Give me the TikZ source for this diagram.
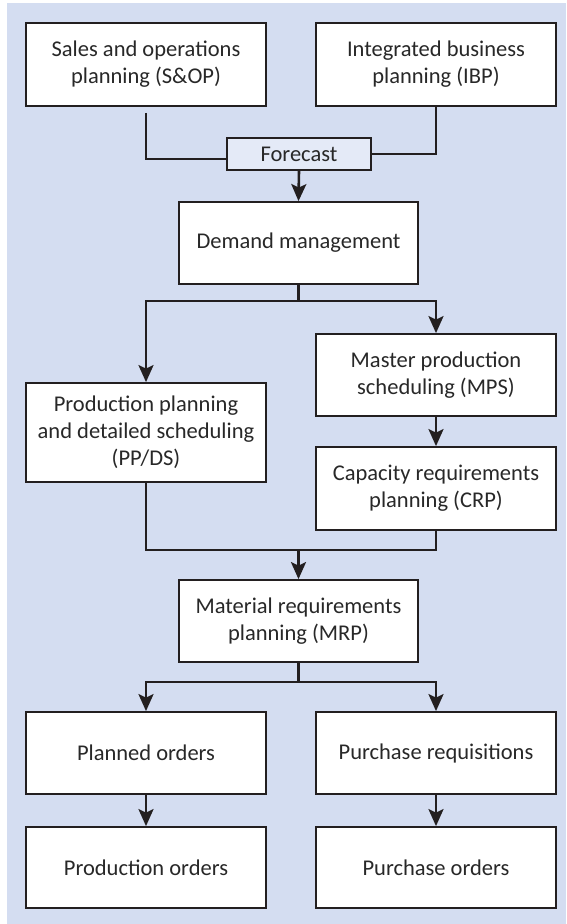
\documentclass[tikz,border=0pt]{standalone}
\usepackage{fontspec}
\setmainfont{Carlito}
\usetikzlibrary{arrows.meta}
\definecolor{bgc}{RGB}{212,221,241}
\definecolor{fcfill}{RGB}{228,234,247}
\definecolor{ink}{RGB}{35,31,32}
\definecolor{txt}{RGB}{40,40,40}
\tikzset{
  box/.style={draw=ink, line width=1.8pt, fill=white, inner sep=0pt, align=center,
    text=txt, font=\fontsize{22.5}{27}\selectfont},
  wbox/.style={box, minimum width=240pt, minimum height=83pt},
  fcbox/.style={box, fill=fcfill, minimum width=144pt, minimum height=32pt},
  conn/.style={draw=ink, line width=2.6pt},
  arr/.style={conn, -{Stealth[length=17pt, width=15pt, inset=3.5pt]}}
}
\begin{document}
\begin{tikzpicture}[x=1pt, y=-1pt]
\useasboundingbox (0,0) rectangle (566,924);
\fill[bgc] (7,3) rectangle (566,924);

\node[wbox] (sop) at (146,64.5) {Sales and operations\\planning (S\&OP)};
\node[wbox] (ibp) at (436,64.5) {Integrated business\\planning (IBP)};
\node[fcbox] (fc) at (299,154) {Forecast};
\node[wbox, minimum width=239pt, minimum height=82pt] (dm) at (298.5,243) {Demand management};
\node[wbox, minimum height=99pt] (ppds) at (146,432.5) {Production planning\\and detailed scheduling\\(PP/DS)};
\node[wbox, minimum height=82pt] (mps) at (436,375) {Master production\\scheduling (MPS)};
\node[wbox] (crp) at (436,488.5) {Capacity requirements\\planning (CRP)};
\node[wbox, minimum width=239pt, minimum height=82pt] (mrp) at (298.5,621) {Material requirements\\planning (MRP)};
\node[wbox, minimum height=82pt] (plo) at (146,753) {Planned orders};
\node[wbox, minimum height=82pt] (preq) at (436,753) {Purchase requisitions};
\node[wbox, minimum height=81pt] (prodo) at (146,867.5) {Production orders};
\node[wbox, minimum height=81pt] (purcho) at (436,867.5) {Purchase orders};

\coordinate (s1) at (298.5,301);
\coordinate (s2) at (298.5,550);
\coordinate (s3) at (298.5,682);

\draw[conn] ([yshift=-6pt]sop.south) |- ([yshift=-5pt]fc.west);
\draw[conn] (ibp.south) |- (fc.east);
\draw[arr] (fc.south) -- (dm.north);

\draw[conn] (dm.south) -- (s1);
\draw[arr] (s1) -| (ppds.north);
\draw[arr] (s1) -| (mps.north);
\draw[arr] (mps.south) -- (crp.north);

\draw[conn] (ppds.south) |- (s2);
\draw[conn] (crp.south) |- (s2);
\draw[arr] (s2) -- (mrp.north);

\draw[conn] (mrp.south) -- (s3);
\draw[arr] (s3) -| (plo.north);
\draw[arr] (s3) -| (preq.north);
\draw[arr] (plo.south) -- (prodo.north);
\draw[arr] (preq.south) -- (purcho.north);
\end{tikzpicture}
\end{document}
